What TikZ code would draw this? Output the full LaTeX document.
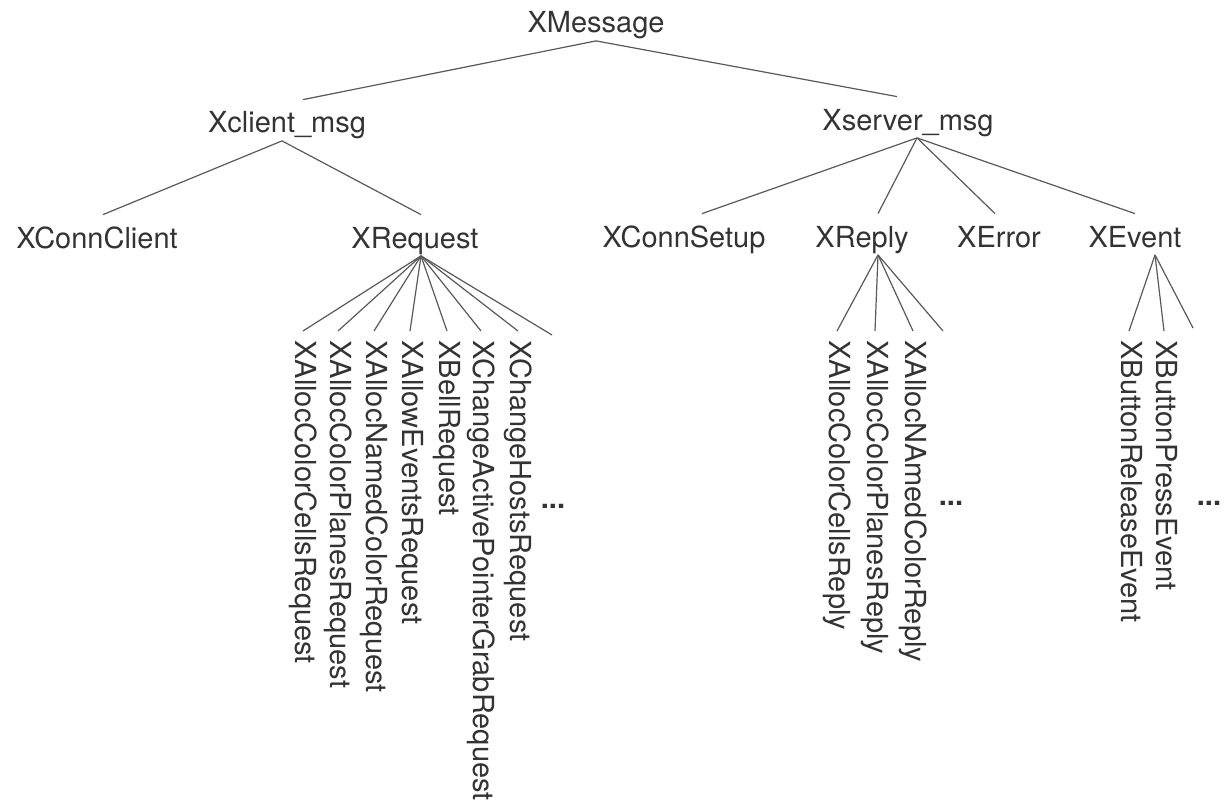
\documentclass[tikz,border=0pt]{standalone}
\usepackage{fontspec}
\setmainfont{TeX Gyre Heros}
\usepackage{tikz}

\begin{document}
\begin{tikzpicture}[x=0.5pt, y=-0.5pt]
  % Styles
  \tikzset{
    cls/.style={font=\fontsize{14.5}{17}\selectfont, text=black!80, anchor=base,
      inner sep=0pt, text height=16.5pt, text depth=3.75pt},
    leaf/.style={font=\fontsize{14.5}{17}\selectfont, text=black!80, rotate=-90,
      anchor=west, inner xsep=4.5pt, inner ysep=0pt, text height=10.4pt, text depth=3pt},
    more/.style={font=\bfseries\fontsize{14.5}{17}\selectfont, text=black!80, inner sep=0pt},
    link/.style={draw=black!65, line width=0.6pt}
  }
  \useasboundingbox (0,0) rectangle (1224,808);

  % Root and message kinds
  \node[cls] (msg) at (596,33) {XMessage};
  \node[cls] (climsg) at (287,133) {Xclient\_msg};
  \node[cls] (srvmsg) at (908,130) {Xserver\_msg};

  % Second level
  \node[cls] (connclient) at (97,248) {XConnClient};
  \node[cls] (request) at (415,248) {XRequest};
  \node[cls] (connsetup) at (684,247) {XConnSetup};
  \node[cls] (reply) at (862,247) {XReply};
  \node[cls] (error) at (999,247) {XError};
  \node[cls] (event) at (1135,247) {XEvent};

  % Requests
  \node[leaf] (req1) at (303,331) {XAllocColorCellsRequest};
  \node[leaf] (req2) at (338,331) {XAllocColorPlanesRequest};
  \node[leaf] (req3) at (374,331) {XAllocNamedColorRequest};
  \node[leaf] (req4) at (410,331) {XAllowEventsRequest};
  \node[leaf] (req5) at (447,331) {XBellRequest};
  \node[leaf] (req6) at (481,331) {XChangeActivePointerGrabRequest};
  \node[leaf] (req7) at (518,331) {XChangeHostsRequest};
  \coordinate (reqmore) at (552,335);
  \node[more] (reqdots) at (553,506) {...};

  % Replies
  \node[leaf] (rep1) at (837,331) {XAllocColorCellsReply};
  \node[leaf] (rep2) at (875,331) {XAllocColorPlanesReply};
  \node[leaf] (rep3) at (913,331) {XAllocNAmedColorReply};
  \coordinate (repmore) at (943,331);
  \node[more] (repdots) at (951,503) {...};

  % Events
  \node[leaf] (ev1) at (1129,331) {XButtonReleaseEvent};
  \node[leaf] (ev2) at (1164,331) {XButtonPressEvent};
  \coordinate (evmore) at (1193,328);
  \node[more] (evdots) at (1209,503) {...};

  % Hubs
  \coordinate (clihub) at ([xshift=-2.5pt]climsg.south);
  \coordinate (srvhub) at ([xshift=4.5pt]srvmsg.south);
  \coordinate (reqhub) at ([xshift=3pt]request.south);
  \coordinate (rephub) at ([xshift=8pt]reply.south);
  \coordinate (evhub) at ([xshift=10pt]event.south);

  % Links - top levels
  \draw[link] (msg.south) -- ([xshift=8pt]climsg.north);
  \draw[link] (msg.south) -- ([xshift=-5.5pt]srvmsg.north);
  \draw[link] (clihub) -- ([xshift=3pt]connclient.north);
  \draw[link] (clihub) -- ([xshift=3pt]request.north);
  \draw[link] (srvhub) -- ([xshift=9pt]connsetup.north);
  \draw[link] (srvhub) -- ([xshift=8pt]reply.north);
  \draw[link] (srvhub) -- ([xshift=-2pt]error.north);
  \draw[link] (srvhub) -- (event.north);

  % Links - requests
  \draw[link] (reqhub) -- (req1.west);
  \draw[link] (reqhub) -- (req2.west);
  \draw[link] (reqhub) -- (req3.west);
  \draw[link] (reqhub) -- (req4.west);
  \draw[link] (reqhub) -- (req5.west);
  \draw[link] (reqhub) -- (req6.west);
  \draw[link] (reqhub) -- (req7.west);
  \draw[link] (reqhub) -- (reqmore);

  % Links - replies and events
  \draw[link] (rephub) -- (rep1.west);
  \draw[link] (rephub) -- (rep2.west);
  \draw[link] (rephub) -- (rep3.west);
  \draw[link] (rephub) -- (repmore);
  \draw[link] (evhub) -- (ev1.west);
  \draw[link] (evhub) -- (ev2.west);
  \draw[link] (evhub) -- (evmore);

\end{tikzpicture}
\end{document}
